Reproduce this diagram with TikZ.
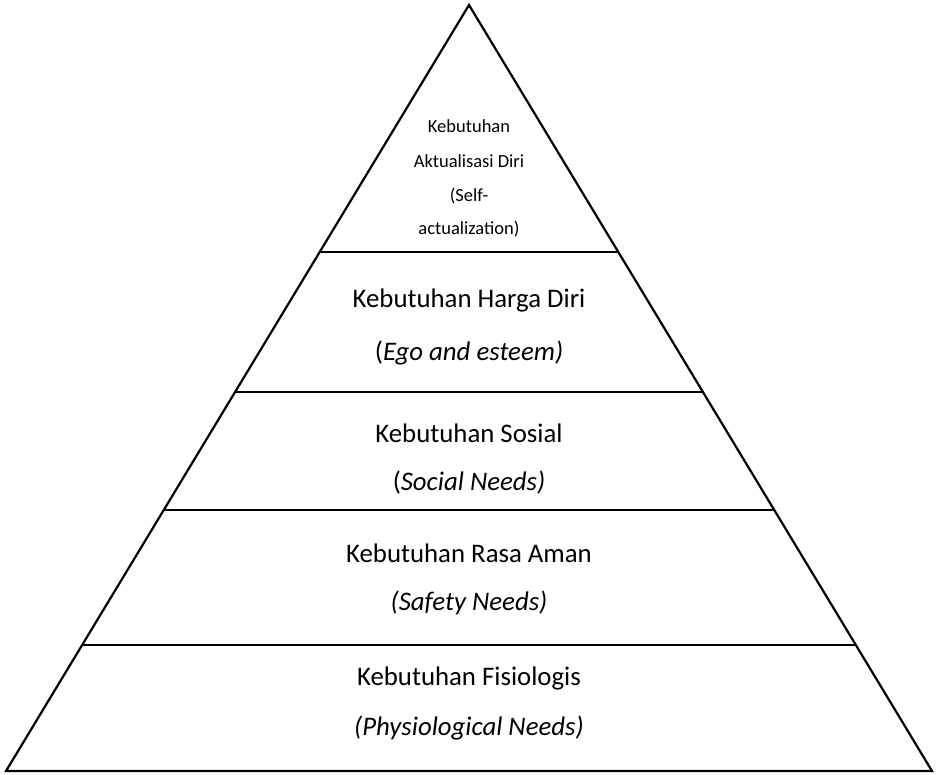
\documentclass[tikz,border=0pt]{standalone}
\usepackage{fontspec}
\setmainfont{Carlito}
\usetikzlibrary{calc}
\begin{document}
\begin{tikzpicture}[x=1pt,y=-1pt,
  edge/.style={line width=2.2pt,line join=miter},
  sep/.style={line width=1.8pt},
  big/.style={font=\fontsize{26.8}{30}\selectfont,inner sep=0pt},
  small/.style={font=\fontsize{18.5}{22}\selectfont,inner sep=0pt}]
\useasboundingbox (0,0) rectangle (937,774);
\coordinate (A) at (469,5);
\coordinate (B) at (6,771);
\coordinate (C) at (932,771);
\draw[edge] (A) -- (B) -- (C) -- cycle;
\foreach \t/\n in {0.3225/1,0.5052/2,0.6593/3,0.8355/4}{
  \coordinate (L\n) at ($(A)!\t!(B)$);
  \coordinate (R\n) at ($(A)!\t!(C)$);
  \draw[sep] (L\n) -- (R\n);
}
\node[small] (t1) at (469,126) {Kebutuhan};
\node[small] (t2) at (469,161) {Aktualisasi Diri};
\node[small] (t3) at (469,196) {(Self-};
\node[small] (t4) at (469,229) {actualization)};
\node[big] (h1) at (469,300) {Kebutuhan Harga Diri};
\node[big] (h2) at (469,353) {(\textit{Ego and esteem)}};
\node[big] (s1) at (469,433) {Kebutuhan Sosial};
\node[big] (s2) at (469,483) {(\textit{Social Needs)}};
\node[big] (a1) at (469,553) {Kebutuhan Rasa Aman};
\node[big] (a2) at (469,603) {\textit{(Safety Needs)}};
\node[big] (f1) at (469,678) {Kebutuhan Fisiologis};
\node[big] (f2) at (469,728) {\textit{(Physiological Needs)}};
\end{tikzpicture}
\end{document}
